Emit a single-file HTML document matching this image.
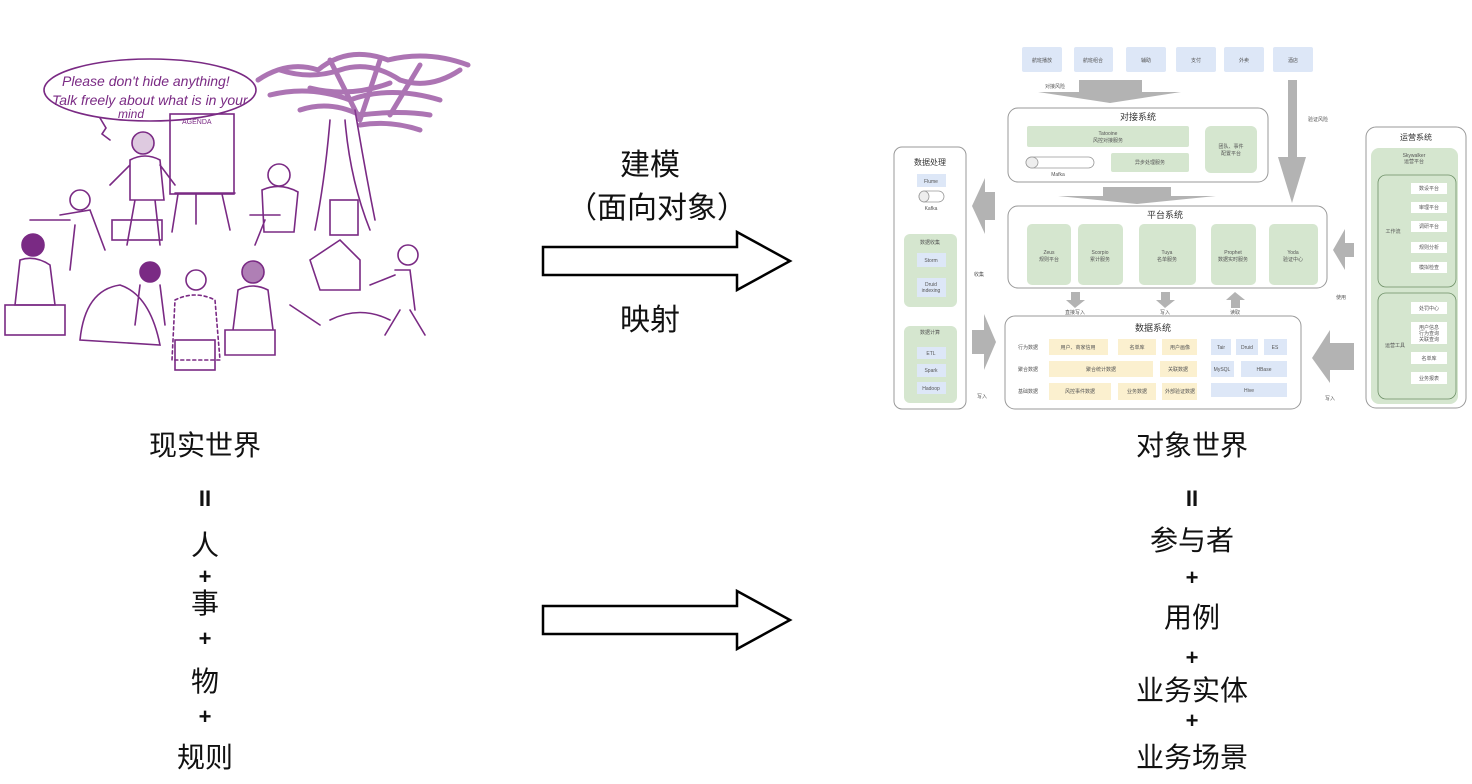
<!DOCTYPE html>
<html><head><meta charset="utf-8">
<style>
html,body{margin:0;padding:0;background:#fff;}
body{width:1472px;height:784px;overflow:hidden;position:relative;font-family:"Liberation Sans","Noto Sans CJK SC",sans-serif;}
svg{position:absolute;left:0;top:0;}
.t{font-family:"Liberation Sans","Noto Sans CJK SC",sans-serif;}
</style></head><body>
<svg width="1472" height="784" viewBox="0 0 1472 784" xmlns="http://www.w3.org/2000/svg">
<!-- ========== LEFT SKETCH ========== -->
<g stroke="#7a2a84" fill="none" stroke-width="1.6" stroke-linecap="round">
  <ellipse cx="150" cy="90" rx="106" ry="31"/>
  <path d="M100 118 l6 10 -4 6 8 6"/>
  <text x="62" y="86" class="t" fill="#7a2a84" stroke="none" font-size="14" font-style="italic">Please don't hide anything!</text>
  <text x="52" y="105" class="t" fill="#7a2a84" stroke="none" font-size="14" font-style="italic">Talk freely about what is in your</text>
  <text x="118" y="118" class="t" fill="#7a2a84" stroke="none" font-size="12" font-style="italic">mind</text>
  <!-- flip chart -->
  <rect x="170" y="114" width="64" height="80"/>
  <text x="182" y="124" class="t" fill="#7a2a84" stroke="none" font-size="7">AGENDA</text>
  <path d="M178 194 l-6 38 M222 194 l8 36 M196 194 v30 M175 193 h60"/>
  <!-- tree -->
  <path d="M330 120 q-5 60 -15 110 M345 120 q5 60 25 110 M355 110 q10 60 20 110"/>
  <g stroke-width="5" stroke="#8a3a94" opacity="0.7">
    <path d="M258 80 q30 -20 60 -10 q30 -25 70 -10 q40 -10 80 5"/>
    <path d="M270 95 q40 -10 80 5 q40 -15 90 0"/>
    <path d="M300 110 q30 -10 60 5 q40 -5 70 0"/>
    <path d="M330 60 l30 60 M380 60 l-20 60 M420 65 l-30 50"/>
    <path d="M280 70 q30 10 60 0 q30 -10 60 10 M310 88 q40 10 80 -5 M360 125 q30 -5 60 5 M400 80 q30 10 60 -10"/>
  </g>
  <!-- teacher -->
  <circle cx="143" cy="143" r="11" fill="#7a2a84" fill-opacity="0.25"/>
  <path d="M130 160 q15 -8 30 0 l4 40 h-34 z M135 200 l-8 45 M155 200 l5 45 M130 165 l-20 20 M160 165 l15 20"/>
  <rect x="112" y="220" width="50" height="20"/>
  <!-- seated people -->
  <circle cx="80" cy="200" r="10"/>
  <path d="M60 215 l30 -5 l15 40 M75 225 l-5 45 M30 220 l40 0"/>
  <circle cx="33" cy="245" r="11" fill="#7a2a84"/>
  <path d="M20 260 q15 -5 30 5 l5 40 h-40 z"/><rect x="5" y="305" width="60" height="30"/>
  <path d="M80 340 q5 -50 40 -55 q30 10 40 60 z"/>
  <circle cx="150" cy="272" r="10" fill="#7a2a84"/>
  <path d="M140 285 l-5 40 M160 285 l5 40"/>
  <circle cx="196" cy="280" r="10"/>
  <path d="M175 300 q20 -10 40 0 l5 60 h-48 z" stroke-dasharray="3 3"/>
  <rect x="175" y="340" width="40" height="30"/>
  <circle cx="253" cy="272" r="11" fill="#7a2a84" fill-opacity="0.6"/>
  <path d="M238 290 q15 -8 30 0 l5 40 h-40 z M225 330 h50 v25 h-50 z"/>
  <circle cx="279" cy="175" r="11"/>
  <path d="M262 190 q18 -8 36 2 l-4 40 h-30 z M250 215 l30 0 M255 245 l10 -25"/>
  <rect x="330" y="200" width="28" height="35"/>
  <path d="M310 260 l30 -20 l20 20 v30 h-40 z M290 305 l30 20"/>
  <circle cx="408" cy="255" r="10"/>
  <path d="M395 270 l15 0 l5 40 M400 310 l-15 25 M410 310 l15 25 M370 285 l25 -10"/>
  <path d="M330 320 q30 -15 60 0"/>
</g>

<!-- ========== MIDDLE ARROWS ========== -->
<g fill="#fff" stroke="#000" stroke-width="2.5">
  <polygon points="543,247 737,247 737,232 790,261 737,290 737,275 543,275"/>
  <polygon points="543,606 737,606 737,591 790,620 737,649 737,634 543,634"/>
</g>
<g class="t" font-size="30" fill="#111" text-anchor="middle">
  <text x="650" y="175">建模</text>
  <text x="657" y="218">（面向对象）</text>
  <text x="650" y="330">映射</text>
</g>

<!-- ========== RIGHT DIAGRAM ========== -->
<g class="t" font-size="5" fill="#555" text-anchor="middle">
  <g fill="#dde7f7">
    <rect x="1022" y="47" width="40" height="25" rx="2"/>
    <rect x="1074" y="47" width="39" height="25" rx="2"/>
    <rect x="1126" y="47" width="40" height="25" rx="2"/>
    <rect x="1176" y="47" width="40" height="25" rx="2"/>
    <rect x="1224" y="47" width="40" height="25" rx="2"/>
    <rect x="1273" y="47" width="40" height="25" rx="2"/>
  </g>
  <text x="1042" y="62">航班播放</text><text x="1093" y="62">航班组合</text><text x="1146" y="62">辅助</text><text x="1196" y="62">支付</text><text x="1244" y="62">外卖</text><text x="1293" y="62">酒店</text>
  <g fill="#b3b3b3">
    <polygon points="1079,80 1142,80 1142,92 1181,92 1110,103 1038,92 1079,92"/>
    <polygon points="1288,80 1297,80 1297,157 1306,157 1292,203 1278,157 1288,157"/>
    <polygon points="1103,187 1171,187 1171,196 1216,196 1137,204 1058,196 1103,196"/>
    <polygon points="995,192 985,192 985,178 972,206 985,234 985,220 995,220"/>
    <polygon points="972,330 984,330 984,314 996,342 984,370 984,354 972,354"/>
    <polygon points="1354,243 1345,243 1345,229 1333,250 1345,270 1345,257 1354,257"/>
    <polygon points="1354,343 1330,343 1330,330 1312,358 1330,383 1330,370 1354,370"/>
    <polygon points="1071,292 1080,292 1080,300 1085,300 1075,308 1066,300 1071,300"/>
    <polygon points="1161,292 1170,292 1170,300 1175,300 1165,308 1156,300 1161,300"/>
    <polygon points="1231,308 1240,308 1240,300 1245,300 1235,292 1226,300 1231,300"/>
  </g>
  <text x="1055" y="88">对接风险</text><text x="1318" y="121">验证风险</text>
  <text x="979" y="276">收集</text><text x="982" y="398">写入</text>
  <text x="1341" y="299">使用</text><text x="1330" y="400">写入</text>
  <text x="1075" y="314">直接写入</text><text x="1165" y="314">写入</text><text x="1235" y="314">读取</text>

  <rect x="1008" y="108" width="260" height="74" rx="10" fill="#fff" stroke="#999" stroke-width="1"/>
  <text x="1138" y="120" font-size="9" fill="#333">对接系统</text>
  <rect x="1027" y="126" width="162" height="21" fill="#d5e6cf" rx="2"/>
  <text x="1108" y="135">Tatooine</text><text x="1108" y="142">风控对接服务</text>
  <rect x="1026" y="157" width="68" height="11" rx="5.5" fill="#fff" stroke="#999" stroke-width="0.8"/>
  <ellipse cx="1032" cy="162.5" rx="6" ry="5.5" fill="#eee" stroke="#999" stroke-width="0.8"/>
  <text x="1058" y="176">Mafka</text>
  <rect x="1111" y="153" width="78" height="19" fill="#d5e6cf" rx="2"/>
  <text x="1150" y="164">异步处理服务</text>
  <rect x="1205" y="126" width="52" height="47" fill="#d5e6cf" rx="6"/>
  <text x="1231" y="148">团队、事件</text><text x="1231" y="155">配置平台</text>

  <rect x="1008" y="206" width="319" height="82" rx="10" fill="#fff" stroke="#999" stroke-width="1"/>
  <text x="1165" y="218" font-size="9" fill="#333">平台系统</text>
  <g fill="#d5e6cf">
    <rect x="1027" y="224" width="44" height="61" rx="5"/>
    <rect x="1078" y="224" width="45" height="61" rx="5"/>
    <rect x="1139" y="224" width="57" height="61" rx="5"/>
    <rect x="1211" y="224" width="45" height="61" rx="5"/>
    <rect x="1269" y="224" width="49" height="61" rx="5"/>
  </g>
  <text x="1049" y="254">Zeus</text><text x="1049" y="261">规则平台</text>
  <text x="1100" y="254">Scorpio</text><text x="1100" y="261">累计服务</text>
  <text x="1167" y="254">Tuya</text><text x="1167" y="261">名单服务</text>
  <text x="1233" y="254">Prophet</text><text x="1233" y="261">数据实时服务</text>
  <text x="1293" y="254">Yoda</text><text x="1293" y="261">验证中心</text>

  <rect x="1005" y="316" width="296" height="93" rx="10" fill="#fff" stroke="#999" stroke-width="1"/>
  <text x="1153" y="331" font-size="9" fill="#333">数据系统</text>
  <text x="1028" y="349">行为数据</text><text x="1028" y="371">聚合数据</text><text x="1028" y="393">基础数据</text>
  <g fill="#fbf0cf">
    <rect x="1049" y="339" width="59" height="16"/><rect x="1118" y="339" width="38" height="16"/><rect x="1162" y="339" width="35" height="16"/>
    <rect x="1049" y="361" width="104" height="16"/><rect x="1160" y="361" width="37" height="16"/>
    <rect x="1049" y="383" width="62" height="17"/><rect x="1118" y="383" width="38" height="17"/><rect x="1162" y="383" width="35" height="17"/>
  </g>
  <text x="1078" y="349">用户、商家信用</text><text x="1137" y="349">名单库</text><text x="1180" y="349">用户画像</text>
  <text x="1101" y="371">聚合统计数据</text><text x="1178" y="371">关联数据</text>
  <text x="1080" y="393">风控事件数据</text><text x="1137" y="393">业务数据</text><text x="1180" y="393">外部验证数据</text>
  <g fill="#dde7f7">
    <rect x="1211" y="339" width="20" height="16"/><rect x="1236" y="339" width="22" height="16"/><rect x="1264" y="339" width="23" height="16"/>
    <rect x="1211" y="361" width="23" height="16"/><rect x="1241" y="361" width="46" height="16"/>
    <rect x="1211" y="383" width="76" height="14"/>
  </g>
  <text x="1221" y="349">Tair</text><text x="1247" y="349">Druid</text><text x="1275" y="349">ES</text>
  <text x="1222" y="371">MySQL</text><text x="1264" y="371">HBase</text><text x="1249" y="392">Hive</text>

  <rect x="894" y="147" width="72" height="262" rx="8" fill="#fff" stroke="#999" stroke-width="1"/>
  <text x="930" y="165" font-size="8" fill="#333">数据处理</text>
  <rect x="917" y="174" width="29" height="13" fill="#dde7f7"/><text x="931" y="183">Flume</text>
  <rect x="919" y="191" width="25" height="11" rx="5.5" fill="#fff" stroke="#999" stroke-width="0.8"/>
  <ellipse cx="924" cy="196.5" rx="5" ry="5.5" fill="#eee" stroke="#999" stroke-width="0.8"/>
  <text x="931" y="210">Kafka</text>
  <rect x="904" y="234" width="53" height="73" rx="6" fill="#d5e6cf"/>
  <text x="930" y="244">数据收集</text>
  <rect x="917" y="253" width="29" height="14" fill="#dde7f7"/><text x="931" y="262">Storm</text>
  <rect x="917" y="278" width="29" height="19" fill="#dde7f7"/><text x="931" y="286">Druid</text><text x="931" y="292">indexing</text>
  <rect x="904" y="326" width="53" height="77" rx="6" fill="#d5e6cf"/>
  <text x="930" y="334">数据计算</text>
  <rect x="917" y="347" width="29" height="12" fill="#dde7f7"/><text x="931" y="355">ETL</text>
  <rect x="917" y="364" width="29" height="13" fill="#dde7f7"/><text x="931" y="372">Spark</text>
  <rect x="917" y="382" width="29" height="12" fill="#dde7f7"/><text x="931" y="390">Hadoop</text>

  <rect x="1366" y="127" width="100" height="281" rx="10" fill="#fff" stroke="#999" stroke-width="1"/>
  <text x="1416" y="140" font-size="8" fill="#333">运营系统</text>
  <rect x="1371" y="148" width="87" height="256" rx="8" fill="#d5e6cf"/>
  <text x="1414" y="157">Skywalker</text><text x="1414" y="163">运营平台</text>
  <rect x="1378" y="175" width="78" height="112" rx="8" fill="none" stroke="#6d8f66" stroke-width="0.8"/>
  <rect x="1378" y="293" width="78" height="106" rx="8" fill="none" stroke="#6d8f66" stroke-width="0.8"/>
  <text x="1393" y="233">工作流</text><text x="1395" y="347">运营工具</text>
  <g fill="#fff">
    <rect x="1411" y="183" width="36" height="11"/><rect x="1411" y="202" width="36" height="11"/>
    <rect x="1411" y="221" width="36" height="11"/><rect x="1411" y="242" width="36" height="11"/>
    <rect x="1411" y="262" width="36" height="11"/>
    <rect x="1411" y="302" width="36" height="12"/><rect x="1411" y="322" width="36" height="22"/>
    <rect x="1411" y="352" width="36" height="12"/><rect x="1411" y="372" width="36" height="12"/>
  </g>
  <text x="1429" y="190">数设平台</text><text x="1429" y="209">审理平台</text><text x="1429" y="228">调研平台</text>
  <text x="1429" y="249">规则分析</text><text x="1429" y="269">模拟检查</text>
  <text x="1429" y="310">处罚中心</text><text x="1429" y="329">用户信息</text><text x="1429" y="335">行为查询</text><text x="1429" y="341">关联查询</text>
  <text x="1429" y="360">名单库</text><text x="1429" y="380">业务报表</text>
</g>

<!-- ========== BOTTOM TEXT ========== -->
<g class="t" font-size="28" fill="#111" text-anchor="middle">
  <text x="205" y="455">现实世界</text>
  <text x="205" y="555">人</text>
  <text x="205" y="613">事</text>
  <text x="205" y="691">物</text>
  <text x="205" y="767">规则</text>
  <text x="1192" y="455">对象世界</text>
  <text x="1192" y="550">参与者</text>
  <text x="1192" y="627">用例</text>
  <text x="1192" y="700">业务实体</text>
  <text x="1192" y="767">业务场景</text>
</g>
<g class="t" font-size="22" font-weight="bold" fill="#111" text-anchor="middle">
  <text x="205" y="506">II</text>
  <text x="205" y="584">+</text>
  <text x="205" y="646">+</text>
  <text x="205" y="724">+</text>
  <text x="1192" y="506">II</text>
  <text x="1192" y="585">+</text>
  <text x="1192" y="665">+</text>
  <text x="1192" y="728">+</text>
</g>
</svg>
</body></html>
